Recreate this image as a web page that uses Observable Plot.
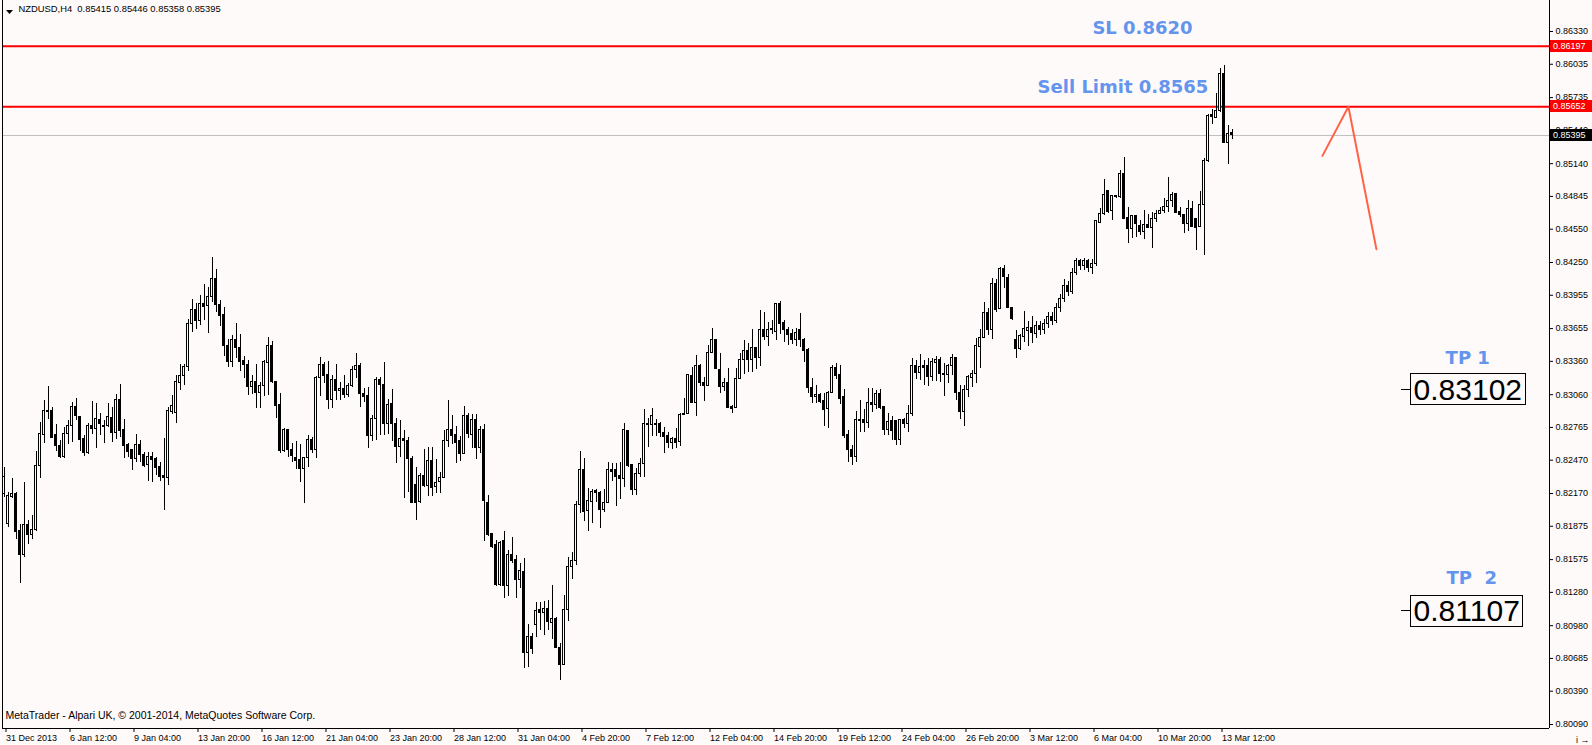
<!DOCTYPE html>
<html>
<head>
<meta charset="utf-8">
<script src="https://cdn.jsdelivr.net/npm/d3@7"></script>
<script src="https://cdn.jsdelivr.net/npm/@observablehq/plot@0.6"></script>
<style>
  html, body { margin: 0; padding: 0; background: snow; }
  #chart svg text { white-space: pre; }
</style>
</head>
<body>
<div id="chart"></div>
<script>
// NZDUSD H4 bars, 31 Dec 2013 – 13 Mar 2014
const symbol = "NZDUSD,H4";

const open = [
  0.82162,0.81892,0.82138,0.82168,0.81829,0.81619,0.81883,0.81799,0.81844,0.82420,
  0.82699,0.82915,0.82909,0.82699,0.82600,0.82498,0.82708,0.82780,0.82951,0.82861,
  0.82657,0.82531,0.82780,0.82753,0.82834,0.82780,0.82780,0.82852,0.82714,0.83008,
  0.82738,0.82609,0.82558,0.82483,0.82609,0.82513,0.82423,0.82501,0.82477,0.82405,
  0.82324,0.82312,0.82903,0.82897,0.83164,0.83230,0.83308,0.83700,0.83820,0.83720,
  0.83880,0.83854,0.83938,0.84103,0.83869,0.83779,0.83494,0.83353,0.83548,0.83482,
  0.83359,0.83329,0.83128,0.83176,0.83074,0.83134,0.83344,0.83500,0.83176,0.82963,
  0.82549,0.82738,0.82558,0.82492,0.82468,0.82393,0.82492,0.82654,0.82564,0.83209,
  0.83329,0.83233,0.83014,0.83194,0.83092,0.83113,0.83053,0.83140,0.83278,0.83314,
  0.83068,0.83044,0.82684,0.82837,0.83188,0.83143,0.82795,0.82978,0.82798,0.82588,
  0.82663,0.82639,0.82483,0.82243,0.82093,0.82324,0.82237,0.82459,0.82228,0.82273,
  0.82312,0.82639,0.82744,0.82693,0.82639,0.82528,0.82864,0.82699,0.82828,0.82579,
  0.82738,0.82087,0.81802,0.81703,0.81343,0.81739,0.81334,0.81613,0.81568,0.81388,
  0.81463,0.80734,0.80878,0.80983,0.81118,0.81094,0.81133,0.81007,0.81043,0.80782,
  0.80629,0.81124,0.81508,0.81562,0.82063,0.82384,0.82012,0.82093,0.82189,0.82177,
  0.82018,0.82087,0.82384,0.82378,0.82324,0.82303,0.82729,0.82423,0.82198,0.82348,
  0.82438,0.82798,0.82789,0.82798,0.82798,0.82717,0.82684,0.82624,0.82663,0.82633,
  0.82879,0.82888,0.83227,0.82987,0.83314,0.83167,0.83140,0.83437,0.83548,0.83278,
  0.83128,0.83167,0.82948,0.82939,0.83197,0.83368,0.83449,0.83368,0.83482,0.83392,
  0.83644,0.83578,0.83644,0.83623,0.83878,0.83704,0.83644,0.83602,0.83554,0.83644,
  0.83554,0.83458,0.83122,0.83038,0.83059,0.82999,0.82933,0.83074,0.83299,0.83233,
  0.83038,0.82693,0.82560,0.82500,0.82834,0.82834,0.82804,0.82987,0.82969,0.83068,
  0.82948,0.82738,0.82819,0.82819,0.82648,0.82828,0.82798,0.82882,0.83314,0.83257,
  0.83314,0.83317,0.83218,0.83347,0.83368,0.83248,0.83239,0.83314,0.83392,0.83077,
  0.82903,0.83098,0.83209,0.83248,0.83488,0.83572,0.83794,0.83638,0.84058,0.83833,
  0.84193,0.84112,0.83842,0.83548,0.83467,0.83578,0.83632,0.83662,0.83610,0.83680,
  0.83640,0.83700,0.83760,0.83720,0.83840,0.83920,0.84040,0.83980,0.84160,0.84260,
  0.84220,0.84260,0.84200,0.84240,0.84610,0.84689,0.84890,0.84710,0.84840,0.84839,
  0.85049,0.84650,0.84554,0.84665,0.84575,0.84524,0.84590,0.84560,0.84638,0.84689,
  0.84710,0.84749,0.84803,0.84869,0.84704,0.84674,0.84599,0.84734,0.84644,0.84569,
  0.84770,0.85160,0.85574,0.85550,0.85610,0.85949,0.85325,0.85415
];
const high = [
  0.82408,0.82183,0.82303,0.82183,0.81892,0.82267,0.81928,0.81973,0.82549,0.82813,
  0.83005,0.83134,0.82948,0.82792,0.82648,0.82762,0.82828,0.82990,0.83023,0.82861,
  0.82693,0.82798,0.82996,0.82978,0.82894,0.82828,0.82978,0.82948,0.83062,0.83152,
  0.82834,0.82624,0.82558,0.82702,0.82648,0.82543,0.82543,0.82543,0.82498,0.82453,
  0.82666,0.82948,0.83053,0.83233,0.83329,0.83329,0.83740,0.83920,0.83880,0.83950,
  0.84050,0.84028,0.84292,0.84184,0.83908,0.83848,0.83557,0.83593,0.83698,0.83602,
  0.83407,0.83368,0.83233,0.83329,0.83173,0.83368,0.83572,0.83542,0.83176,0.83068,
  0.82753,0.82744,0.82618,0.82639,0.82609,0.82498,0.82693,0.82678,0.83224,0.83392,
  0.83353,0.83359,0.83233,0.83329,0.83173,0.83233,0.83158,0.83314,0.83428,0.83344,
  0.83113,0.83128,0.82873,0.83212,0.83212,0.83347,0.83014,0.83104,0.82843,0.82828,
  0.82738,0.82678,0.82504,0.82408,0.82348,0.82567,0.82582,0.82582,0.82474,0.82357,
  0.82738,0.83008,0.82873,0.82774,0.82684,0.82954,0.82888,0.82879,0.82879,0.82774,
  0.82792,0.82153,0.81808,0.81748,0.81742,0.81829,0.81658,0.81778,0.81613,0.81538,
  0.81583,0.80989,0.80908,0.81187,0.81187,0.81199,0.81208,0.81343,0.81058,0.80824,
  0.81253,0.81598,0.81637,0.82099,0.82549,0.82483,0.82213,0.82207,0.82207,0.82192,
  0.82207,0.82447,0.82438,0.82444,0.82453,0.82798,0.82738,0.82423,0.82393,0.82483,
  0.82924,0.82843,0.82936,0.82834,0.82813,0.82768,0.82723,0.82678,0.82753,0.82888,
  0.83023,0.83242,0.83302,0.83413,0.83332,0.83218,0.83503,0.83653,0.83554,0.83434,
  0.83203,0.83293,0.82963,0.83293,0.83434,0.83548,0.83518,0.83644,0.83488,0.83818,
  0.83803,0.83713,0.83728,0.83884,0.83902,0.83728,0.83662,0.83644,0.83653,0.83788,
  0.83563,0.83473,0.83203,0.83143,0.83068,0.83074,0.83089,0.83323,0.83338,0.83323,
  0.83104,0.82738,0.82600,0.82909,0.83008,0.82924,0.83119,0.83119,0.83098,0.83104,
  0.82948,0.82888,0.82867,0.82828,0.82834,0.82843,0.82963,0.83389,0.83368,0.83422,
  0.83368,0.83383,0.83389,0.83404,0.83398,0.83338,0.83332,0.83422,0.83398,0.83143,
  0.83143,0.83233,0.83278,0.83563,0.83644,0.83893,0.83833,0.84103,0.84094,0.84208,
  0.84223,0.84142,0.83848,0.83638,0.83602,0.83812,0.83722,0.83764,0.83720,0.83720,
  0.83740,0.83800,0.83800,0.83880,0.83960,0.84100,0.84080,0.84200,0.84290,0.84280,
  0.84290,0.84280,0.84280,0.84630,0.84734,0.84998,0.84899,0.84854,0.84854,0.85079,
  0.85199,0.84749,0.84674,0.84665,0.84629,0.84719,0.84680,0.84704,0.84719,0.84749,
  0.84824,0.85019,0.84884,0.84875,0.84749,0.84674,0.84809,0.84803,0.84644,0.84890,
  0.85184,0.85580,0.85628,0.85769,0.85994,0.86024,0.85484,0.85446
];
const low = [
  0.82138,0.81862,0.82123,0.81754,0.81358,0.81598,0.81712,0.81754,0.81832,0.82303,
  0.82618,0.82840,0.82666,0.82552,0.82483,0.82483,0.82612,0.82633,0.82828,0.82552,
  0.82507,0.82519,0.82702,0.82573,0.82693,0.82624,0.82762,0.82633,0.82660,0.82678,
  0.82483,0.82492,0.82381,0.82447,0.82453,0.82408,0.82282,0.82273,0.82336,0.82276,
  0.82021,0.82246,0.82882,0.82804,0.83101,0.83146,0.83272,0.83620,0.83650,0.83680,
  0.83730,0.83614,0.83893,0.83803,0.83677,0.83407,0.83302,0.83302,0.83383,0.83272,
  0.83203,0.83053,0.83062,0.82933,0.82933,0.83044,0.83053,0.83158,0.82843,0.82534,
  0.82540,0.82492,0.82447,0.82384,0.82273,0.82084,0.82408,0.82528,0.82483,0.83047,
  0.83164,0.82924,0.82933,0.83008,0.83008,0.83023,0.83038,0.83128,0.83203,0.82948,
  0.82987,0.82579,0.82642,0.82648,0.82693,0.82690,0.82699,0.82639,0.82438,0.82498,
  0.82123,0.82177,0.82078,0.81928,0.82084,0.82228,0.82144,0.82144,0.82174,0.82168,
  0.82303,0.82582,0.82612,0.82438,0.82462,0.82522,0.82669,0.82573,0.82474,0.82528,
  0.81742,0.81784,0.81673,0.81334,0.81334,0.81223,0.81244,0.81538,0.81223,0.81313,
  0.80593,0.80599,0.80722,0.80878,0.80938,0.80893,0.80938,0.80854,0.80773,0.80482,
  0.80623,0.81022,0.81394,0.81520,0.81988,0.81922,0.81832,0.81904,0.82093,0.81859,
  0.82003,0.82078,0.82279,0.82057,0.82117,0.82222,0.82408,0.82150,0.82150,0.82318,
  0.82318,0.82588,0.82684,0.82684,0.82678,0.82534,0.82579,0.82564,0.82573,0.82594,
  0.82873,0.82882,0.82984,0.82864,0.83134,0.83002,0.83134,0.83428,0.83284,0.83074,
  0.83089,0.82933,0.82894,0.82933,0.83194,0.83242,0.83263,0.83263,0.83284,0.83314,
  0.83548,0.83494,0.83602,0.83548,0.83602,0.83533,0.83503,0.83509,0.83494,0.83482,
  0.83353,0.83068,0.82984,0.82978,0.82978,0.82774,0.82759,0.83068,0.83194,0.82972,
  0.82669,0.82450,0.82420,0.82450,0.82723,0.82723,0.82753,0.82903,0.82924,0.82924,
  0.82693,0.82693,0.82648,0.82600,0.82600,0.82753,0.82723,0.82864,0.83194,0.83188,
  0.83143,0.83134,0.83182,0.83182,0.83173,0.83047,0.83164,0.83233,0.83008,0.82834,
  0.82777,0.83038,0.83128,0.83164,0.83293,0.83563,0.83593,0.83554,0.83803,0.83824,
  0.84013,0.83833,0.83728,0.83389,0.83458,0.83533,0.83497,0.83524,0.83570,0.83590,
  0.83600,0.83660,0.83680,0.83700,0.83800,0.83890,0.83940,0.83960,0.84130,0.84180,
  0.84180,0.84160,0.84140,0.84210,0.84599,0.84670,0.84689,0.84629,0.84824,0.84830,
  0.84644,0.84419,0.84464,0.84479,0.84494,0.84458,0.84554,0.84374,0.84614,0.84680,
  0.84689,0.84704,0.84749,0.84695,0.84659,0.84509,0.84530,0.84569,0.84359,0.84569,
  0.84314,0.85154,0.85490,0.85544,0.85604,0.85325,0.85130,0.85358
];
const close = [
  0.82318,0.82144,0.82168,0.81823,0.81619,0.81883,0.81799,0.81844,0.82420,0.82708,
  0.82915,0.82903,0.82672,0.82600,0.82498,0.82708,0.82780,0.82951,0.82867,0.82654,
  0.82531,0.82780,0.82753,0.82840,0.82792,0.82777,0.82861,0.82714,0.83014,0.82732,
  0.82600,0.82543,0.82483,0.82609,0.82513,0.82420,0.82501,0.82474,0.82399,0.82318,
  0.82312,0.82909,0.82960,0.83176,0.83230,0.83308,0.83700,0.83820,0.83720,0.83880,
  0.83850,0.83938,0.84103,0.83869,0.83767,0.83494,0.83353,0.83548,0.83482,0.83353,
  0.83323,0.83128,0.83176,0.83074,0.83134,0.83350,0.83500,0.83176,0.82957,0.82549,
  0.82738,0.82558,0.82507,0.82462,0.82393,0.82492,0.82654,0.82564,0.83209,0.83329,
  0.83227,0.83014,0.83194,0.83092,0.83113,0.83053,0.83140,0.83278,0.83320,0.83062,
  0.83038,0.82684,0.82837,0.83194,0.83149,0.82795,0.82969,0.82795,0.82588,0.82663,
  0.82639,0.82477,0.82087,0.82087,0.82324,0.82237,0.82459,0.82222,0.82267,0.82312,
  0.82639,0.82744,0.82687,0.82624,0.82528,0.82864,0.82705,0.82828,0.82579,0.82738,
  0.82102,0.81799,0.81688,0.81343,0.81727,0.81334,0.81619,0.81559,0.81388,0.81469,
  0.80734,0.80878,0.80773,0.81112,0.81097,0.81133,0.81013,0.81043,0.80779,0.80629,
  0.81124,0.81508,0.81562,0.82063,0.82378,0.82003,0.82099,0.82183,0.82174,0.82018,
  0.82087,0.82384,0.82363,0.82318,0.82303,0.82738,0.82417,0.82198,0.82348,0.82438,
  0.82798,0.82789,0.82870,0.82786,0.82714,0.82678,0.82624,0.82663,0.82627,0.82879,
  0.82888,0.83233,0.82987,0.83314,0.83167,0.83134,0.83437,0.83548,0.83293,0.83128,
  0.83167,0.82939,0.82933,0.83203,0.83368,0.83449,0.83368,0.83482,0.83392,0.83644,
  0.83578,0.83644,0.83653,0.83878,0.83698,0.83644,0.83593,0.83554,0.83614,0.83548,
  0.83452,0.83119,0.83038,0.83059,0.82993,0.82924,0.83077,0.83299,0.83224,0.83023,
  0.82684,0.82560,0.82500,0.82834,0.82830,0.82804,0.82987,0.82969,0.83068,0.82939,
  0.82738,0.82813,0.82732,0.82648,0.82828,0.82798,0.82882,0.83320,0.83257,0.83308,
  0.83302,0.83218,0.83353,0.83368,0.83248,0.83239,0.83314,0.83392,0.83074,0.82903,
  0.83098,0.83218,0.83248,0.83494,0.83572,0.83794,0.83638,0.84052,0.83824,0.84193,
  0.84118,0.83839,0.83743,0.83467,0.83584,0.83647,0.83659,0.83614,0.83680,0.83640,
  0.83700,0.83760,0.83720,0.83840,0.83920,0.84040,0.83980,0.84160,0.84260,0.84220,
  0.84260,0.84200,0.84240,0.84620,0.84689,0.84860,0.84704,0.84845,0.84845,0.85049,
  0.84644,0.84554,0.84665,0.84599,0.84524,0.84590,0.84560,0.84638,0.84689,0.84710,
  0.84749,0.84803,0.84860,0.84698,0.84674,0.84599,0.84734,0.84569,0.84560,0.84770,
  0.85160,0.85568,0.85559,0.85610,0.85949,0.85325,0.85409,0.85395
];

// Time axis: one label every 16 bars
const dateLabels = [
  "31 Dec 2013", "6 Jan 12:00", "9 Jan 04:00", "13 Jan 20:00", "16 Jan 12:00",
  "21 Jan 04:00", "23 Jan 20:00", "28 Jan 12:00", "31 Jan 04:00", "4 Feb 20:00",
  "7 Feb 12:00", "12 Feb 04:00", "14 Feb 20:00", "19 Feb 12:00", "24 Feb 04:00",
  "26 Feb 20:00", "3 Mar 12:00", "6 Mar 04:00", "10 Mar 20:00", "13 Mar 12:00"
];
const labelStep = 16;

// Price axis labels
const priceTicks = [
  0.86330, 0.86035, 0.85735, 0.85440, 0.85140, 0.84845, 0.84550, 0.84250,
  0.83955, 0.83655, 0.83360, 0.83060, 0.82765, 0.82470, 0.82170, 0.81875,
  0.81575, 0.81280, 0.80980, 0.80685, 0.80390, 0.80090
];

// Trade plan levels
const stopLoss = 0.86197;
const sellLimit = 0.85652;
const targets = [0.83102, 0.81107];

// Text notes: bar index and price of each note's left/middle anchor
const notes = [
  {label: "SL 0.8620", i: 272.1, p: 0.86361},
  {label: "Sell Limit 0.8565", i: 258.4, p: 0.85830},
  {label: "TP 1", i: 360.4, p: 0.83386},
  {label: "TP  2", i: 360.6, p: 0.81405}
];
const targetAnchor = 352.4;

// Hand-drawn projection: up to the sell limit, then down
const arrowPath = [
  {i: 329.6, p: 0.85210},
  {i: 336.1, p: 0.85652},
  {i: 343.1, p: 0.84370}
];

const watermark = "MetaTrader - Alpari UK, \u00a9 2001-2014, MetaQuotes Software Corp.";

// ---------------------------------------------------------------
const bars = open.map((o, i) => ({i, open: o, high: high[i], low: low[i], close: close[i]}));
const last = bars[bars.length - 1];
const f5 = (v) => v.toFixed(5);
const header = `${symbol}  ${f5(last.open)} ${f5(last.high)} ${f5(last.low)} ${f5(last.close)}`;

const W = 1592, H = 745;
const mL = 2, mR = 43, mT = 0, mB = 17;
const xDomain = [-0.375, 386.375];
const yDomain = [0.800542, 0.866091];
const bg = "snow";
const uiFont = "'Liberation Sans', Arial, sans-serif";

const chart = Plot.plot({
  width: W,
  height: H,
  marginLeft: mL,
  marginRight: mR,
  marginTop: mT,
  marginBottom: mB,
  x: {domain: xDomain, axis: null},
  y: {domain: yDomain, axis: null},
  style: {background: bg, fontFamily: uiFont, fontSize: "9px", color: "black", overflow: "visible"},
  marks: [
    // current bid line and order levels
    Plot.ruleY([last.close], {stroke: "#c0c0c0", shapeRendering: "crispEdges"}),
    Plot.ruleY([stopLoss, sellLimit], {stroke: "red", strokeWidth: 2}),

    // candlesticks: wicks first, bodies on top
    Plot.ruleX(bars, {x: "i", y1: "low", y2: "high", stroke: "black", shapeRendering: "crispEdges"}),
    Plot.rect(bars.filter((d) => d.close < d.open), {
      x1: (d) => d.i - 0.25, x2: (d) => d.i + 0.25, y1: "open", y2: "close",
      fill: "black", stroke: "black", shapeRendering: "crispEdges"
    }),
    Plot.rect(bars.filter((d) => d.close >= d.open), {
      x1: (d) => d.i - 0.25, x2: (d) => d.i + 0.25, y1: "open", y2: "close",
      fill: bg, stroke: "black", shapeRendering: "crispEdges"
    }),
    Plot.ruleY(bars.filter((d) => Math.abs(d.close - d.open) < 0.0001), {
      y: "close", x1: (d) => d.i - 0.375, x2: (d) => d.i + 0.375, stroke: "black", shapeRendering: "crispEdges"
    }),

    // projection arrow
    Plot.line(arrowPath, {x: "i", y: "p", stroke: "tomato", strokeWidth: 2}),

    // window border and price axis line
    Plot.ruleX([xDomain[0], xDomain[1]], {stroke: "black", shapeRendering: "crispEdges"}),
    Plot.ruleY([yDomain[0]], {stroke: "black", shapeRendering: "crispEdges"}),

    Plot.axisY(priceTicks, {anchor: "right", tickSize: 3, tickPadding: 3, tickFormat: f5}),
    Plot.axisX(d3.range(0, dateLabels.length * labelStep, labelStep), {
      anchor: "bottom", tickSize: 4, tickPadding: 2, textAnchor: "start", dx: 2,
      tickFormat: (i) => dateLabels[i / labelStep]
    }),

    // header and watermark
    Plot.text([header], {text: (d) => d, frameAnchor: "top-left", dx: 16, dy: 5, lineAnchor: "top", textAnchor: "start", fontSize: 9.4}),
    Plot.text([watermark], {text: (d) => d, frameAnchor: "bottom-left", dx: 3, dy: -10, lineAnchor: "bottom", textAnchor: "start", fontSize: 10.5}),

    // annotations
    Plot.text(notes, {
      x: "i", y: "p", text: "label", textAnchor: "start",
      fontFamily: "'DejaVu Sans', Verdana, sans-serif", fontWeight: "bold", fontSize: 18, fill: "cornflowerblue"
    }),
    Plot.text(targets, {
      x: () => targetAnchor, y: (d) => d, text: f5, textAnchor: "start",
      fontFamily: uiFont, fontSize: 30, fill: "black"
    })
  ]
});

document.getElementById("chart").append(chart);

const svg = d3.select(chart);
const yScale = chart.scale("y");

// boxes around the take-profit labels, with a short leader line
const targetTexts = targets.map(f5);
svg.selectAll("text").filter(function () { return targetTexts.includes(this.textContent); }).each(function () {
  const b = this.getBBox();
  const parent = d3.select(this.parentNode);
  const tf = this.getAttribute("transform");
  const cy = b.y + b.height / 2;
  parent.insert("rect", () => this)
    .attr("transform", tf)
    .attr("x", b.x - 3).attr("y", b.y + 1).attr("width", b.width + 6).attr("height", b.height - 2)
    .attr("fill", "none").attr("stroke", "black").attr("shape-rendering", "crispEdges");
  parent.append("line")
    .attr("transform", tf)
    .attr("x1", b.x - 13).attr("x2", b.x - 3).attr("y1", cy).attr("y2", cy)
    .attr("stroke", "black").attr("shape-rendering", "crispEdges");
});

// price tags on the axis for the two orders and the current bid
const tags = [
  {value: stopLoss, fill: "red"},
  {value: sellLimit, fill: "red"},
  {value: last.close, fill: "black"}
];
const tagLayer = svg.append("g")
  .attr("font-family", uiFont).attr("font-size", 9).attr("text-anchor", "start");
for (const t of tags) {
  const y = Math.round(yScale.apply(t.value));
  tagLayer.append("rect")
    .attr("x", W - mR + 1).attr("y", y - 6).attr("width", mR - 1).attr("height", 12)
    .attr("fill", t.fill);
  tagLayer.append("text")
    .attr("x", W - mR + 4).attr("y", y).attr("dy", "0.35em")
    .attr("fill", "white").text(f5(t.value));
}

// small menu triangle before the symbol name
svg.append("path").attr("d", "M6,10h7l-3.5,4z").attr("fill", "black");
</script>
</body>
</html>
